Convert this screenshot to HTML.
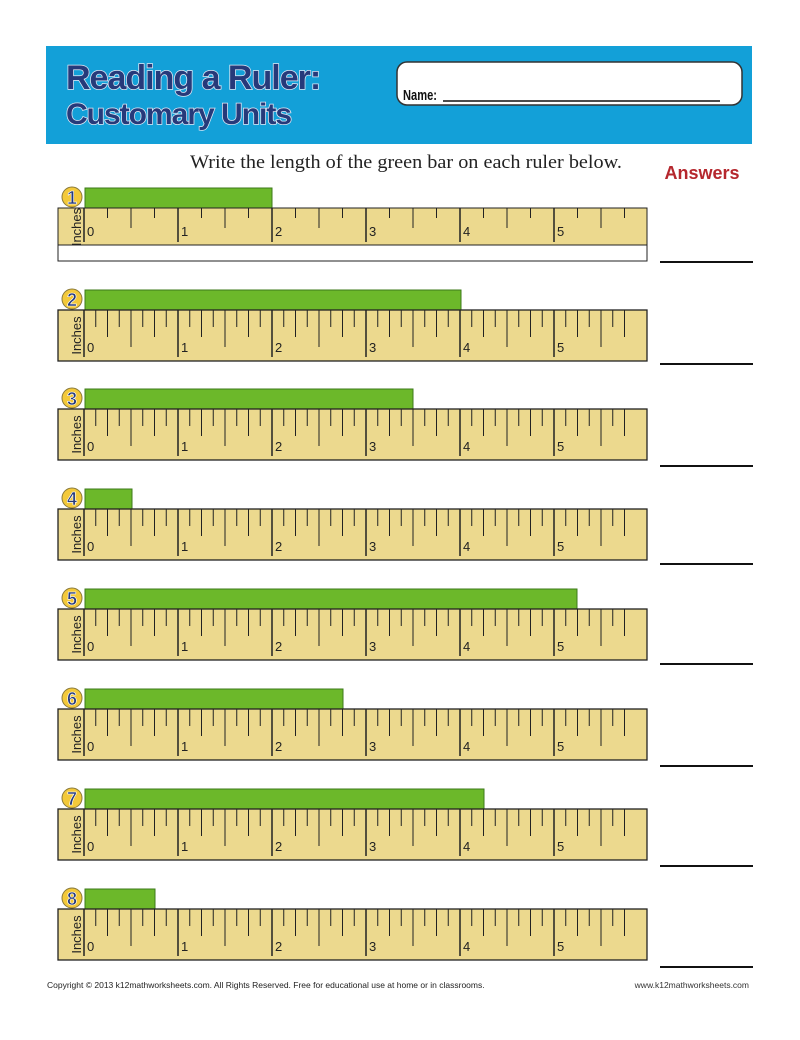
<!DOCTYPE html>
<html><head><meta charset="utf-8"><style>
body{margin:0;background:#fff;width:800px;height:1035px;overflow:hidden;font-family:"Liberation Sans",sans-serif}
</style></head><body>
<svg id="s" width="800" height="1035" xmlns="http://www.w3.org/2000/svg">
<defs><clipPath id="c1"><rect x="58" y="208" width="26" height="37"/></clipPath></defs>
<rect x="46" y="46" width="706" height="98" fill="#13a0d8"/>
<text x="66" y="89" font-family="Liberation Sans" font-weight="bold" font-size="34" fill="#263a7a" stroke="#dfe8f5" stroke-width="1.5" paint-order="stroke" letter-spacing="-1">Reading a Ruler:</text>
<text x="66" y="124" font-family="Liberation Sans" font-weight="bold" font-size="30" fill="#263a7a" stroke="#dfe8f5" stroke-width="1.5" paint-order="stroke" letter-spacing="-1">Customary Units</text>
<rect x="397" y="62" width="345" height="43" rx="10" fill="#fff" stroke="#333" stroke-width="1.5"/>
<text x="403" y="100" font-family="Liberation Sans" font-weight="bold" font-size="15" fill="#111" textLength="34" lengthAdjust="spacingAndGlyphs">Name:</text>
<line x1="443" y1="101" x2="720" y2="101" stroke="#111" stroke-width="1.5"/>
<text x="190" y="168" font-family="Liberation Serif" font-size="19" fill="#222" textLength="432" lengthAdjust="spacingAndGlyphs">Write the length of the green bar on each ruler below.</text>
<text x="702" y="179" text-anchor="middle" font-family="Liberation Sans" font-weight="bold" font-size="18" fill="#b5272d">Answers</text>
<text x="47" y="988" font-size="8.5" fill="#222">Copyright © 2013  k12mathworksheets.com. All Rights Reserved. Free for educational use at home or in classrooms.</text>
<text x="749" y="988" text-anchor="end" font-size="8.5" fill="#333">www.k12mathworksheets.com</text>
<g id="r"></g>
</svg>
<script>
var tops=[208,310,409,509,609,709,809,909];
var ends=[272,461,413,132,577,343,484,155];
var ans=[262,364,466,564,664,766,866,967];
var h='';
for(var i=0;i<8;i++){
 var t=tops[i],bot=t+51;
 h+='<rect x="85" y="'+(t-20)+'" width="'+(ends[i]-85)+'" height="20" fill="#6cb82a" stroke="#3d7a1a" stroke-width="1"/>';
 h+='<circle cx="72" cy="'+(t-11)+'" r="10" fill="#f3c93a" stroke="#8a7a3a" stroke-width="1"/>';
 h+='<text x="72" y="'+(t-4)+'" text-anchor="middle" font-weight="bold" font-size="18" fill="#263a7a" stroke="#fff" stroke-width="0.6">'+(i+1)+'</text>';
 if(i==0){h+='<rect x="58" y="'+t+'" width="589" height="53" fill="#fff" stroke="#222" stroke-width="1"/>';h+='<rect x="58" y="'+t+'" width="589" height="37" fill="#ecd98e" stroke="#222" stroke-width="1"/>';bot=t+37;}
 else h+='<rect x="58" y="'+t+'" width="589" height="51" fill="#ecd98e" stroke="#222" stroke-width="1.3"/>';
 var rh=bot-t;
 var tx='<text transform="translate(81,'+(t+(i==0?19:rh/2))+') rotate(-90)" text-anchor="middle" font-size="13" fill="#222">Inches</text>';
 h+= i==0 ? '<g clip-path="url(#c1)">'+tx+'</g>' : tx;
 for(var k=0;k<=46;k++){
  var x=84+k*11.75;if(x>646)break;
  if(i==0 && k%2==1) continue;
  var L=k%8==0?(i==0?34:47):k%4==0?(i==0?20:37):k%2==0?(i==0?10:27):17;
  h+='<line x1="'+x+'" y1="'+t+'" x2="'+x+'" y2="'+(t+L)+'" stroke="#222" stroke-width="'+(k%8==0?1.5:1)+'"/>';
  if(k%8==0)h+='<text x="'+(x+3)+'" y="'+(t+(i==0?28:42))+'" font-size="13" fill="#222">'+(k/8)+'</text>';
 }
 h+='<line x1="660" y1="'+ans[i]+'" x2="753" y2="'+ans[i]+'" stroke="#111" stroke-width="2"/>';
}
document.getElementById('r').innerHTML=h;
</script>
</body></html>
